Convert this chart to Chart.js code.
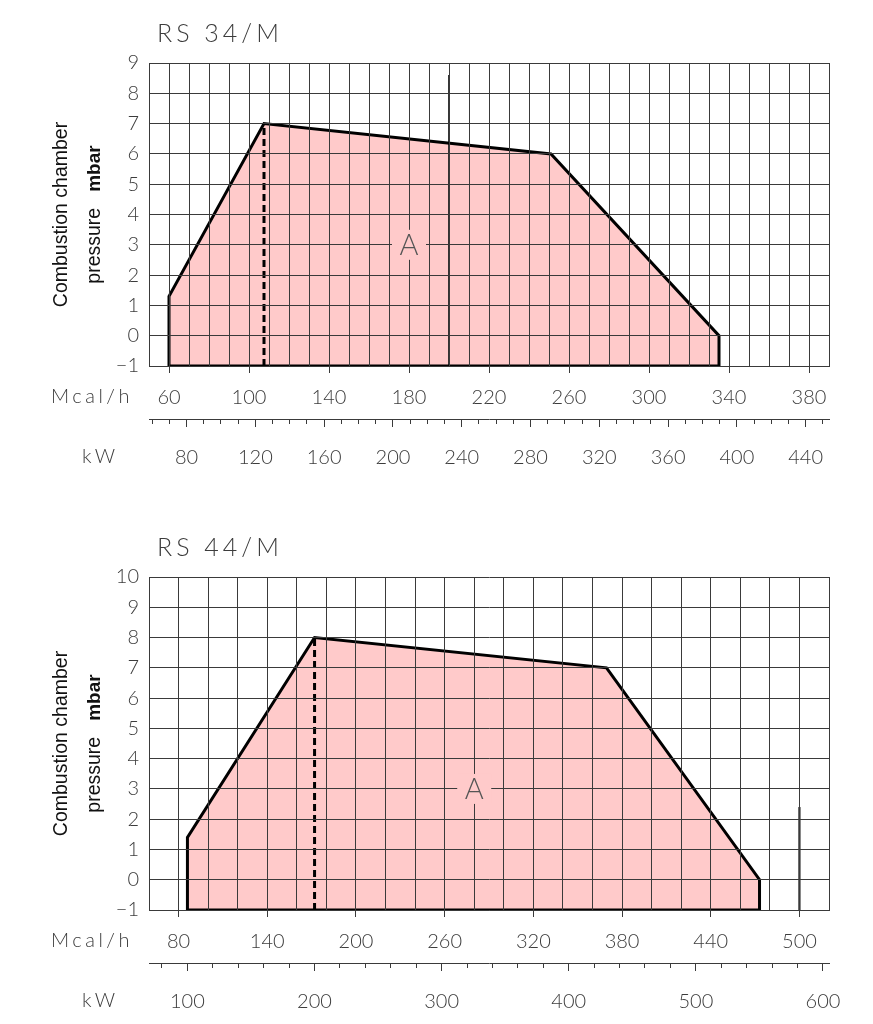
<!DOCTYPE html>
<html>
<head>
<meta charset="utf-8">
<script src="https://cdn.jsdelivr.net/npm/chart.js@4.4.1/dist/chart.umd.min.js"></script>
<style>
  html, body { margin: 0; padding: 0; background: #fff; }
  .box { position: absolute; left: 0; width: 873px; }
  #box34 { top: 0; height: 500px; }
  #box44 { top: 510px; height: 514px; }
</style>
</head>
<body>
<div class="box" id="box34"><canvas id="rs34"></canvas></div>
<div class="box" id="box44"><canvas id="rs44"></canvas></div>
<script>
const KW_PER_MCAL = 1.163;

// RS 34/M : working field outline, Mcal/h against mbar (bottom edge at -1)
const rs34Mcal = [60, 60, 107.5, 251, 335, 335];
const rs34Mbar = [-1, 1.3, 7, 6, 0, -1];
const rs34DashMcal = [107.5, 107.5];
const rs34DashMbar = [-1, 7];
const rs34MarkMcal = [200, 200];
const rs34MarkMbar = [-1, 8.6];
const rs34McalLabels = [60, 100, 140, 180, 220, 260, 300, 340, 380];
const rs34KwLabels = [80, 120, 160, 200, 240, 280, 320, 360, 400, 440];

// RS 44/M
const rs44Mcal = [86, 86, 172, 369.5, 473, 473];
const rs44Mbar = [-1, 1.4, 8, 7, 0, -1];
const rs44DashMcal = [172, 172];
const rs44DashMbar = [-1, 8];
const rs44MarkMcal = [500, 500];
const rs44MarkMbar = [-1, 2.4];
const rs44McalLabels = [80, 140, 200, 260, 320, 380, 440, 500];
const rs44KwLabels = [100, 200, 300, 400, 500, 600];

const GRID = '#3a3a3a';
const TXT = '#3c3c3c';
const PINK = '#ffcaca';
const THIN = "'Lato', 'Open Sans', sans-serif";

function steps(from, to, step) {
    const out = [];
    for (let v = from; v <= to + 1e-9; v += step) out.push(Math.round(v * 1000) / 1000);
    return out;
}

function toPoints(xs, ys) {
    return xs.map((x, i) => ({ x: x, y: ys[i] }));
}

const decorPlugin = {
    id: 'decor',
    beforeInit(chart) {
        chart.ctx.letterSpacing = '2px';
    },
    afterDraw(chart, args, opts) {
        const ctx = chart.ctx;
        const area = chart.chartArea;
        const x = chart.scales.x;
        const y = chart.scales.y;
        ctx.save();

        // title
        ctx.letterSpacing = '4px';
        ctx.fillStyle = TXT;
        ctx.font = '300 25px ' + THIN;
        ctx.textAlign = 'left';
        ctx.textBaseline = 'middle';
        ctx.fillText(opts.title, 157, opts.titleY);

        // unit labels of the two x axes
        ctx.letterSpacing = '3.5px';
        ctx.font = '300 20px ' + THIN;
        ctx.fillText('Mcal/h', 51, area.bottom + 31);
        ctx.fillText('kW', 82, area.bottom + 91);

        // field label "A" with a gap in the grid
        const ax = x.getPixelForValue(opts.aMcal);
        const ay = y.getPixelForValue(opts.aMbar);
        ctx.fillStyle = PINK;
        ctx.fillRect(ax - 17, ay - 15, 34, 30);
        ctx.fillStyle = '#555';
        ctx.letterSpacing = '0px';
        ctx.font = '300 29px ' + THIN;
        ctx.textAlign = 'center';
        ctx.fillText('A', ax, ay + 1);

        // y axis title, two rotated lines
        const midY = (area.top + area.bottom) / 2;
        ctx.fillStyle = '#111';
        ctx.translate(62, midY);
        ctx.rotate(-Math.PI / 2);
        ctx.font = '19.5px "Liberation Sans", Arial, sans-serif';
        ctx.fillText('Combustion chamber', 0, 0);
        ctx.rotate(Math.PI / 2);
        ctx.translate(33, 0);
        ctx.rotate(-Math.PI / 2);
        const w1 = ctx.measureText('pressure').width;
        ctx.font = 'bold 19px "Liberation Sans", Arial, sans-serif';
        const w2 = ctx.measureText('mbar').width;
        const gap = 16;
        const start = -(w1 + gap + w2) / 2;
        ctx.textAlign = 'left';
        ctx.font = '19.5px "Liberation Sans", Arial, sans-serif';
        ctx.fillText('pressure', start, 0);
        ctx.font = 'bold 19px "Liberation Sans", Arial, sans-serif';
        ctx.fillText('mbar', start + w1 + gap, 0);
        ctx.restore();
    }
};

function makeChart(id, s) {
    const kwMin = s.mcalMin * KW_PER_MCAL;
    const kwMax = s.mcalMax * KW_PER_MCAL;
    const last = s.mcal.length - 1;
    return new Chart(document.getElementById(id).getContext('2d'), {
        type: 'line',
        data: {
            datasets: [
                {
                    // filled working field
                    data: toPoints(s.mcal, s.mbar),
                    borderColor: '#000',
                    borderWidth: 3,
                    borderJoinStyle: 'miter',
                    backgroundColor: PINK,
                    fill: 'start',
                    pointRadius: 0,
                    tension: 0
                },
                {
                    // bottom edge of the field
                    data: toPoints([s.mcal[0], s.mcal[last]], [s.mbar[0], s.mbar[last]]),
                    borderColor: '#000',
                    borderWidth: 3,
                    fill: false,
                    pointRadius: 0
                },
                {
                    data: toPoints(s.dashMcal, s.dashMbar),
                    borderColor: '#000',
                    borderWidth: 3,
                    borderDash: [7, 4],
                    fill: false,
                    pointRadius: 0
                },
                {
                    data: toPoints(s.markMcal, s.markMbar),
                    borderColor: '#222',
                    borderWidth: s.markWidth,
                    fill: false,
                    pointRadius: 0
                }
            ]
        },
        plugins: [decorPlugin],
        options: {
            responsive: true,
            maintainAspectRatio: false,
            animation: false,
            layout: { padding: { top: s.padTop, right: 44, bottom: 0, left: 0 } },
            plugins: {
                legend: { display: false },
                tooltip: { enabled: false },
                filler: { drawTime: 'beforeDatasetsDraw' },
                decor: { title: s.title, titleY: s.titleY, aMcal: s.aMcal, aMbar: 3 }
            },
            scales: {
                x: {
                    type: 'linear',
                    position: 'bottom',
                    min: s.mcalMin,
                    max: s.mcalMax,
                    afterBuildTicks: (sc) => { sc.ticks = steps(s.mcalMin, s.mcalMax, s.mcalStep).map(v => ({ value: v })); },
                    afterFit: (sc) => { sc.height = 53; sc.paddingLeft = 0; sc.paddingRight = 0; },
                    grid: {
                        z: 1,
                        color: GRID,
                        lineWidth: 1,
                        tickLength: 7,
                        tickColor: (c) => s.mcalLabels.includes(c.tick && c.tick.value) ? GRID : 'rgba(0,0,0,0)'
                    },
                    border: { color: GRID, z: 1 },
                    ticks: {
                        autoSkip: false,
                        maxRotation: 0,
                        padding: 13,
                        color: TXT,
                        font: { family: THIN, size: 20, weight: '300' },
                        callback: (v) => s.mcalLabels.includes(v) ? String(v) : ''
                    }
                },
                kw: {
                    type: 'linear',
                    axis: 'x',
                    position: 'bottom',
                    min: kwMin,
                    max: kwMax,
                    afterBuildTicks: (sc) => {
                        sc.ticks = steps(s.kwFirst, s.kwLast, s.kwStep).map(v => ({ value: v }));
                    },
                    afterFit: (sc) => { sc.height = s.kwHeight; sc.paddingLeft = 0; sc.paddingRight = 0; },
                    grid: {
                        drawOnChartArea: false,
                        tickLength: 8,
                        tickColor: GRID,
                        tickWidth: 1,
                        tickBorderDash: (c) => s.kwLabels.includes(c.tick && c.tick.value) ? [] : [4, 30]
                    },
                    border: { color: GRID },
                    ticks: {
                        autoSkip: false,
                        maxRotation: 0,
                        padding: 19,
                        color: TXT,
                        font: { family: THIN, size: 20, weight: '300' },
                        callback: (v) => s.kwLabels.includes(v) ? String(v) : ''
                    }
                },
                y: {
                    min: s.mbarMin,
                    max: s.mbarMax,
                    afterBuildTicks: (sc) => { sc.ticks = steps(s.mbarMin, s.mbarMax, 1).map(v => ({ value: v })); },
                    afterFit: (sc) => { sc.width = 149; sc.paddingTop = 0; sc.paddingBottom = 0; },
                    grid: { z: 1, color: GRID, lineWidth: 1, drawTicks: false },
                    border: { color: GRID, z: 1 },
                    ticks: {
                        padding: 10,
                        color: TXT,
                        font: { family: THIN, size: 20, weight: '300' },
                        callback: (v) => v < 0 ? '\u2212' + Math.abs(v) : String(v)
                    }
                }
            }
        }
    });
}

makeChart('rs34', {
    title: 'RS 34/M', titleY: 34, padTop: 63, kwHeight: 81,
    mcal: rs34Mcal, mbar: rs34Mbar,
    dashMcal: rs34DashMcal, dashMbar: rs34DashMbar,
    markMcal: rs34MarkMcal, markMbar: rs34MarkMbar, markWidth: 1.8,
    mcalMin: 50, mcalMax: 390, mcalStep: 10, mcalLabels: rs34McalLabels,
    kwFirst: 60, kwLast: 450, kwStep: 10, kwLabels: rs34KwLabels,
    mbarMin: -1, mbarMax: 9, aMcal: 180
});

makeChart('rs44', {
    title: 'RS 44/M', titleY: 38, padTop: 67, kwHeight: 61,
    mcal: rs44Mcal, mbar: rs44Mbar,
    dashMcal: rs44DashMcal, dashMbar: rs44DashMbar,
    markMcal: rs44MarkMcal, markMbar: rs44MarkMbar, markWidth: 2.2,
    mcalMin: 60, mcalMax: 520, mcalStep: 20, mcalLabels: rs44McalLabels,
    kwFirst: 80, kwLast: 600, kwStep: 20, kwLabels: rs44KwLabels,
    mbarMin: -1, mbarMax: 10, aMcal: 280
});
</script>
</body>
</html>
